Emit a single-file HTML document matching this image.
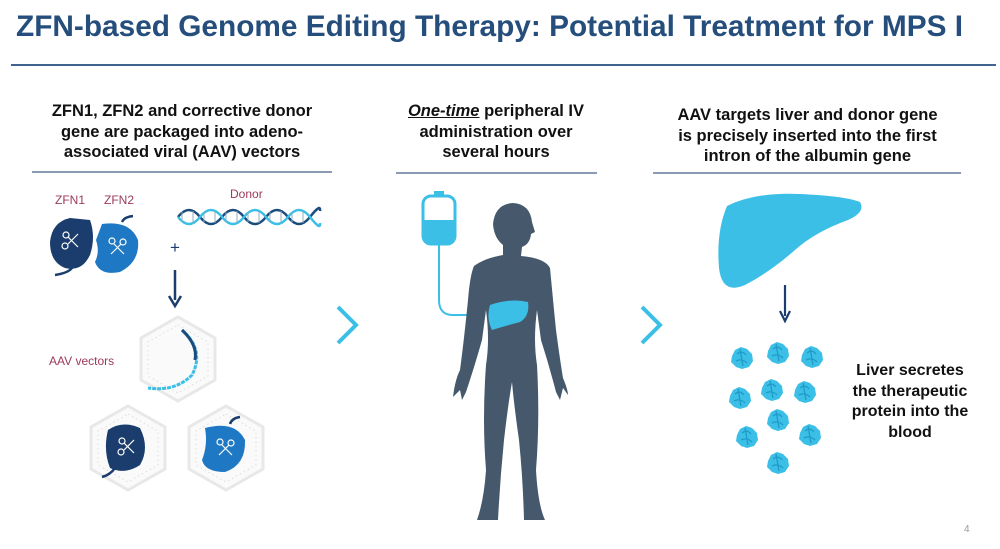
<!DOCTYPE html>
<html><head><meta charset="utf-8"><style>
body{margin:0;width:1000px;height:549px;background:#fff;overflow:hidden;position:relative;font-family:"Liberation Sans",Arial,sans-serif}
.t{position:absolute;left:16px;top:10px;font-size:29.8px;font-weight:bold;color:#254e7d;white-space:nowrap}
.h{position:absolute;font-size:16.5px;font-weight:bold;color:#111;text-align:center;line-height:20.5px;white-space:nowrap}
.lbl{position:absolute;font-size:12px;color:#9b3a5a}
.ln{position:absolute;height:1.5px;background:#8a9ab0}
</style></head><body>
<div class="t">ZFN-based Genome Editing Therapy: Potential Treatment for MPS I</div>
<div class="ln" style="left:11px;top:64px;width:985px;height:2px;background:#3f6490"></div>
<div class="h" style="left:32px;top:101px;width:300px">ZFN1, ZFN2 and corrective donor<br>gene are packaged into adeno-<br>associated viral (AAV) vectors</div>
<div class="h" style="left:390px;top:101px;width:212px"><u><i>One-time</i></u> peripheral IV<br>administration over<br>several hours</div>
<div class="h" style="left:650px;top:105px;width:315px">AAV targets liver and donor gene<br>is precisely inserted into the first<br>intron of the albumin gene</div>
<div class="ln" style="left:32px;top:171px;width:300px"></div>
<div class="ln" style="left:396px;top:172px;width:201px"></div>
<div class="ln" style="left:653px;top:172px;width:308px"></div>
<div class="lbl" style="left:55px;top:193px">ZFN1</div>
<div class="lbl" style="left:104px;top:193px">ZFN2</div>
<div class="lbl" style="left:230px;top:187px">Donor</div>
<div class="lbl" style="left:49px;top:354px">AAV vectors</div>
<div class="h" style="left:840px;top:361px;width:140px;font-size:16px">Liver secretes<br>the therapeutic<br>protein into the<br>blood</div>
<div style="position:absolute;left:964px;top:524px;font-size:10px;color:#999">4</div>
<svg width="1000" height="549" style="position:absolute;left:0;top:0">
<defs>
<g id="sc"><circle cx="-5" cy="-6" r="3" fill="none" stroke="#fff" stroke-width="1.2"/><circle cx="-6" cy="5" r="3" fill="none" stroke="#fff" stroke-width="1.2"/><path d="M-3-4 L7 6 M-3 3 L7-7" stroke="#fff" stroke-width="1.2" fill="none"/></g>
<g id="pr"><path d="M-10-2 L-7-8 L-1-11 L5-9 L10-4 L11 3 L7 9 L0 11 L-6 9 L-11 4Z" fill="#3bbfe6"/><path d="M-5-4 Q0-8 4-3 M-6 3 Q0 0 5 5 M-2-9 L1 8" stroke="#1f9bc9" stroke-width="1.3" fill="none"/></g>
<g id="hex"><polygon points="0,-42 37,-21 37,21 0,42 -37,21 -37,-21" fill="#fafafa" stroke="#e8e8e8" stroke-width="3"/><polygon points="0,-34 30,-17 30,17 0,34 -30,17 -30,-17" fill="none" stroke="#ddd" stroke-dasharray="1.5 3"/></g>
</defs>
<path d="M90 220 Q96 237 90 255 Q82 272 65 268 Q50 262 50 242 Q52 222 70 218Z" fill="#1a3d6e"/>
<path d="M72 268 Q68 273 55 275" stroke="#1a3d6e" stroke-width="2.5" fill="none"/>
<use href="#sc" x="71" y="241"/>
<path d="M102 224 Q130 220 138 240 Q140 262 120 272 Q100 276 95 262 Q100 252 96 240Z" fill="#1f78c4"/>
<path d="M122 222 Q124 217 133 216" stroke="#1a3d6e" stroke-width="2.5" fill="none"/>
<use href="#sc" x="117" y="247" transform="rotate(90 117 247)"/>
<text x="170" y="253" font-size="17" fill="#1a3d6e" font-family="Liberation Sans">+</text>
<g fill="none" stroke-width="2.5">
<path d="M178 217 Q189 203 200 217 T222 217 T244 217 T266 217 T288 217 T310 217 T320 211" stroke="#1a4c7e"/>
<path d="M178 217 Q189 231 200 217 T222 217 T244 217 T266 217 T288 217 T310 217 T320 223" stroke="#3bbfe6"/>
</g>
<path d="M182 212 V222 M193 211 V223 M204 212 V222 M215 211 V223 M226 212 V222 M237 211 V223 M248 212 V222 M259 211 V223 M270 212 V222 M281 211 V223 M292 212 V222 M303 211 V223" stroke="#9ab" stroke-width="1"/>
<path d="M175 270 L175 300" stroke="#1a3d6e" stroke-width="2.5"/><path d="M169 296 L175 306 L181 296" stroke="#1a3d6e" stroke-width="2.5" fill="none"/>
<use href="#hex" x="178" y="359"/>
<use href="#hex" x="128" y="448"/>
<use href="#hex" x="226" y="448"/>
<path d="M182 330 Q205 350 192 375 Q175 392 148 388" stroke="#3bbfe6" stroke-width="3" fill="none" stroke-dasharray="4 1"/>
<path d="M182 330 Q198 345 195 360" stroke="#1a4c7e" stroke-width="3" fill="none"/>
<path d="M108 430 Q122 420 140 428 Q150 448 140 465 Q125 475 110 468 Q103 450 108 430Z" fill="#1a3d6e"/>
<path d="M115 468 Q110 475 102 477" stroke="#1a3d6e" stroke-width="2.5" fill="none"/>
<use href="#sc" x="127" y="447"/>
<path d="M205 428 Q235 420 245 440 Q246 465 225 472 Q205 472 202 460 Q208 445 205 428Z" fill="#1f78c4"/>
<path d="M230 424 Q232 418 240 417" stroke="#1a3d6e" stroke-width="2.5" fill="none"/>
<use href="#sc" x="225" y="448" transform="rotate(90 225 448)"/>
<path d="M338 307 L356 325 L338 343" stroke="#3bbfe6" stroke-width="4" fill="none"/>
<path d="M642 307 L660 325 L642 343" stroke="#3bbfe6" stroke-width="4" fill="none"/>
<rect x="423" y="196" width="32" height="48" rx="8" fill="none" stroke="#3bbfe6" stroke-width="3"/>
<path d="M423 220 L455 220 L455 236 Q455 244 447 244 L431 244 Q423 244 423 236Z" fill="#3bbfe6"/>
<path d="M434 193 L444 193" stroke="#3bbfe6" stroke-width="4"/>
<path d="M439 244 L439 300 Q439 316 455 315 L471 315" stroke="#3bbfe6" stroke-width="2" fill="none"/>
<path fill="#46596c" d="M513 203 Q530 204 532 222 L535 232 L531 234 Q530 244 522 247 L521 256 Q545 258 550 268 Q553 300 556 330 Q560 360 563 378 Q568 390 568 395 L563 388 L560 400 L556 392 Q549 365 541 340 L537 310 Q533 340 537 365 Q540 420 536 470 Q538 505 545 520 L524 520 Q523 480 519 440 Q514 405 512 382 Q508 405 504 440 Q500 480 498 520 L477 520 Q484 500 486 470 Q482 420 486 365 Q490 340 486 310 L482 340 Q475 365 466 392 L462 400 L460 390 L453 397 Q455 380 460 370 Q464 340 468 300 Q470 275 474 266 Q485 258 503 255 L503 245 Q494 238 493 224 Q495 204 513 203Z"/>
<path d="M490 305 Q510 298 528 302 Q530 316 520 322 Q505 326 492 330 Q486 318 490 305Z" fill="#3bbfe6"/>
<path d="M727 206 Q755 192 800 194 Q845 196 860 202 Q866 212 848 220 Q815 232 795 250 Q770 272 745 285 Q722 295 719 268 Q716 232 727 206Z" fill="#3bbfe6"/>
<path d="M785 285 L785 316" stroke="#1a3d6e" stroke-width="2.2"/><path d="M780 311 L785 321 L790 311" stroke="#1a3d6e" stroke-width="2.2" fill="none"/>
<use href="#pr" x="742" y="358"/><use href="#pr" x="778" y="353"/><use href="#pr" x="812" y="357"/>
<use href="#pr" x="740" y="398"/><use href="#pr" x="772" y="390"/><use href="#pr" x="805" y="392"/>
<use href="#pr" x="778" y="420"/><use href="#pr" x="747" y="437"/><use href="#pr" x="810" y="435"/>
<use href="#pr" x="778" y="463"/>
</svg>
</body></html>
